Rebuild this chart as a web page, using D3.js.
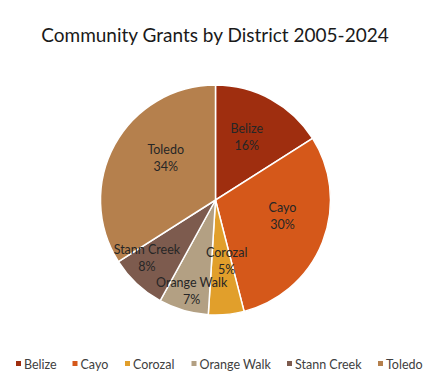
<!DOCTYPE html>
<html>
<head>
<meta charset="utf-8">
<script src="https://cdn.jsdelivr.net/npm/d3@7"></script>
<style>
  body { margin: 0; background: #fff; }
  svg { font-family: Lato, "Liberation Sans", Arial, sans-serif; }
</style>
</head>
<body>
<div id="chart"></div>
<script>
var districts = ["Belize", "Cayo", "Corozal", "Orange Walk", "Stann Creek", "Toledo"];
var shares = [16, 30, 5, 7, 8, 34];
var colors = ["#9f2e0f", "#d5581a", "#e19f2b", "#b3a083", "#7d5b4e", "#b5804d"];
// label placement: share of radius, and a turn (degrees) off the slice middle
var labelPos = [0.615, 0.6, 0.54, 0.82, 0.78, 0.565];
var labelTurn = [-2.6, -7.8, -5, -1.6, 6.7, 11.2];

var width = 442, height = 386,
    cx = 215.5, cy = 200, radius = 115;

var svg = d3.select("#chart")
            .append("svg")
                .attr("width", width)
                .attr("height", height);

svg.append("text")
    .attr("x", 215)
    .attr("y", 42)
    .attr("text-anchor", "middle")
    .attr("font-size", 19)
    .attr("fill", "#1a1a1a")
    .text("Community Grants by District 2005-2024");

var pie = d3.pie().sort(null).value(function(d) { return d.value; });
var rows = districts.map(function(d, i) { return {name: d, value: shares[i], i: i}; });
var arcs = pie(rows);

var arc = d3.arc().innerRadius(0).outerRadius(radius);

var g = svg.append("g")
    .attr("transform", "translate(" + cx + "," + cy + ")");

g.selectAll("path")
    .data(arcs)
    .enter().append("path")
        .attr("d", arc)
        .attr("fill", function(d) { return colors[d.data.i]; })
        .attr("stroke", "#fff")
        .attr("stroke-width", 1.5);

var total = d3.sum(shares);
var labels = g.selectAll("text.lbl")
    .data(arcs)
    .enter().append("text")
        .attr("class", "lbl")
        .attr("text-anchor", "middle")
        .attr("font-size", 12.5)
        .attr("fill", "#262626")
        .attr("transform", function(d) {
            var a = (d.startAngle + d.endAngle) / 2 + labelTurn[d.data.i] * Math.PI / 180;
            var c = d3.pointRadial(a, radius * labelPos[d.data.i]);
            return "translate(" + c[0] + "," + c[1] + ")";
        });

labels.append("tspan").attr("x", 0).attr("y", -4)
    .text(function(d) { return d.data.name; });
labels.append("tspan").attr("x", 0).attr("y", 13)
    .text(function(d) { return Math.round(d.data.value / total * 100) + "%"; });

// legend
var legendX = d3.scaleOrdinal()
    .domain(districts)
    .range([16, 72.5, 125, 191.5, 287, 378]);

var legend = svg.append("g").selectAll("g")
    .data(districts)
    .enter().append("g")
        .attr("transform", function(d) { return "translate(" + legendX(d) + ",364)"; });

legend.append("rect")
    .attr("x", 0).attr("y", -3)
    .attr("width", 5).attr("height", 5)
    .attr("fill", function(d, i) { return colors[i]; });

legend.append("text")
    .attr("x", 8)
    .attr("y", 4.5)
    .attr("font-size", 12.5)
    .attr("fill", "#404040")
    .text(function(d) { return d; });
</script>
</body>
</html>
